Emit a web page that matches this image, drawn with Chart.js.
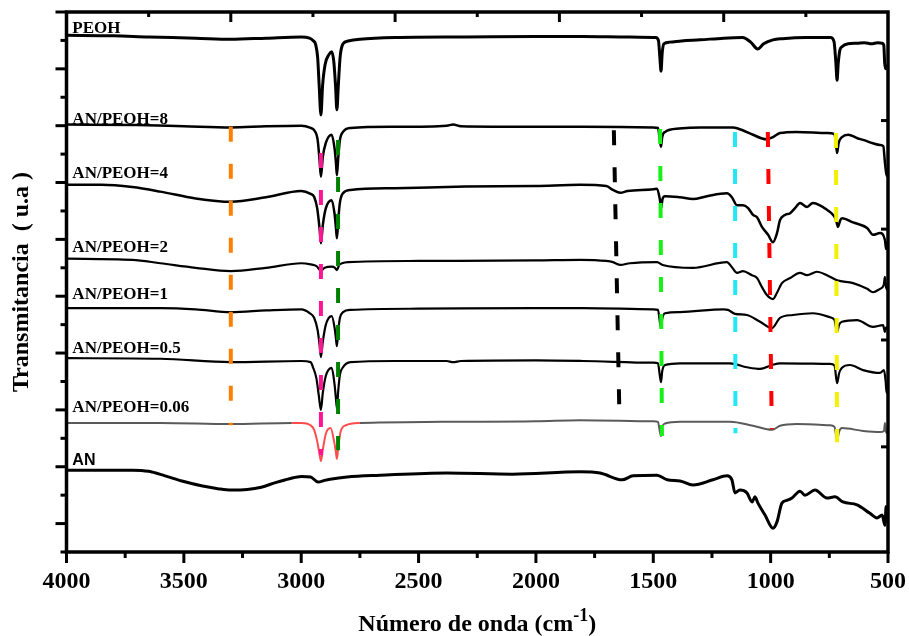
<!DOCTYPE html>
<html>
<head>
<meta charset="utf-8">
<title>FTIR AN/PEOH</title>
<script src="https://cdn.jsdelivr.net/npm/chart.js@4.4.0/dist/chart.umd.min.js"></script>
<style>
  html, body { margin: 0; padding: 0; background: #fff; }
</style>
</head>
<body>
<canvas id="ftirChart" width="909" height="636"></canvas>
<script>
// spectra: [wavenumber (cm-1), transmittance (u.a., stacked)]
const peoh = [
  [4000, 8.59], [3800, 8.58], [3650, 8.56], [3450, 8.54], [3300, 8.52], [3150, 8.54], [3000, 8.56],
  [2965, 8.54], [2950, 8.50], [2938, 8.42], [2930, 8.20], [2924, 7.75], [2916, 7.19], [2909, 7.70],
  [2898, 8.08], [2882, 8.25], [2870, 8.30], [2861, 8.12], [2854, 7.72], [2848, 7.28], [2842, 7.70],
  [2834, 8.22], [2822, 8.44], [2800, 8.49], [2750, 8.52], [2600, 8.55], [2300, 8.56], [2000, 8.57],
  [1800, 8.57], [1600, 8.56], [1490, 8.55], [1478, 8.50], [1472, 8.20], [1467, 7.96], [1462, 8.28],
  [1455, 8.44], [1430, 8.47], [1380, 8.49], [1300, 8.51], [1200, 8.54], [1120, 8.55], [1085, 8.47],
  [1055, 8.35], [1030, 8.44], [990, 8.51], [950, 8.53], [850, 8.55], [745, 8.55], [730, 8.48],
  [722, 8.10], [717, 7.80], [712, 8.10], [705, 8.33], [696, 8.39], [670, 8.44], [632, 8.45],
  [600, 8.46], [570, 8.44], [545, 8.46], [525, 8.45], [518, 8.42], [514, 8.10], [510, 8.00],
  [505, 8.05], [500, 8.03]
];
const an8 = [
  [4000, 7.02], [3700, 7.01], [3500, 6.99], [3300, 6.97], [3150, 6.99], [3000, 7.00], [2960, 6.96],
  [2945, 6.92], [2930, 6.75], [2922, 6.40], [2916, 6.10], [2908, 6.45], [2895, 6.70], [2870, 6.84],
  [2858, 6.60], [2852, 6.35], [2848, 6.13], [2842, 6.45], [2835, 6.75], [2822, 6.89], [2790, 6.96],
  [2600, 6.98], [2380, 7.00], [2353, 7.02], [2320, 6.99], [2000, 6.98], [1800, 6.98], [1500, 6.97],
  [1480, 6.96], [1472, 6.75], [1467, 6.63], [1462, 6.80], [1450, 6.89], [1390, 6.95], [1300, 6.97],
  [1160, 6.97], [1140, 6.95], [1075, 6.84], [1040, 6.78], [1016, 6.76], [990, 6.80], [960, 6.87],
  [890, 6.89], [760, 6.87], [728, 6.85], [722, 6.70], [717, 6.52], [710, 6.70], [696, 6.80],
  [670, 6.84], [630, 6.78], [606, 6.75], [564, 6.69], [534, 6.66], [520, 6.64], [513, 6.35],
  [507, 6.15], [500, 6.10]
];
const an4 = [
  [4000, 5.96], [3850, 5.96], [3720, 5.92], [3600, 5.84], [3450, 5.72], [3300, 5.66], [3150, 5.74],
  [3000, 5.85], [2960, 5.80], [2945, 5.75], [2932, 5.55], [2922, 5.20], [2916, 4.93], [2908, 5.25],
  [2895, 5.55], [2870, 5.69], [2858, 5.45], [2852, 5.20], [2848, 5.02], [2842, 5.35], [2835, 5.65],
  [2822, 5.81], [2790, 5.87], [2600, 5.90], [2300, 5.93], [2000, 5.94], [1812, 5.96], [1700, 5.94],
  [1672, 5.87], [1640, 5.82], [1610, 5.85], [1500, 5.88], [1484, 5.89], [1472, 5.70], [1467, 5.55],
  [1460, 5.72], [1450, 5.76], [1386, 5.74], [1331, 5.71], [1271, 5.76], [1186, 5.81], [1165, 5.74],
  [1143, 5.60], [1118, 5.60], [1096, 5.55], [1075, 5.43], [1058, 5.39], [1037, 5.22], [1011, 5.08],
  [990, 4.95], [973, 5.11], [960, 5.34], [939, 5.43], [917, 5.46], [896, 5.55], [875, 5.64],
  [845, 5.57], [820, 5.64], [790, 5.60], [760, 5.52], [734, 5.43], [722, 5.35], [713, 5.22],
  [704, 5.33], [696, 5.37], [649, 5.30], [589, 5.20], [564, 5.08], [534, 5.11], [513, 4.99],
  [508, 4.83], [504, 4.95], [500, 4.88]
];
const an2 = [
  [4000, 4.66], [3720, 4.64], [3600, 4.58], [3450, 4.50], [3300, 4.44], [3150, 4.50], [3000, 4.58],
  [2960, 4.56], [2935, 4.53], [2916, 4.45], [2900, 4.50], [2870, 4.52], [2856, 4.50], [2848, 4.46],
  [2838, 4.55], [2826, 4.58], [2800, 4.60], [2500, 4.62], [2000, 4.63], [1812, 4.64], [1700, 4.62],
  [1672, 4.60], [1640, 4.55], [1600, 4.58], [1484, 4.60], [1460, 4.55], [1331, 4.50], [1186, 4.60],
  [1165, 4.51], [1143, 4.41], [1118, 4.44], [1080, 4.37], [1058, 4.32], [1037, 4.16], [1016, 4.02],
  [990, 3.95], [973, 4.06], [952, 4.23], [917, 4.32], [875, 4.41], [845, 4.37], [803, 4.43],
  [760, 4.37], [717, 4.28], [649, 4.23], [589, 4.13], [564, 4.07], [534, 4.13], [518, 4.20],
  [513, 4.34], [508, 4.15], [500, 4.11]
];
const an1 = [
  [4000, 3.79], [3600, 3.79], [3450, 3.77], [3300, 3.72], [3150, 3.75], [3000, 3.77], [2963, 3.70],
  [2945, 3.62], [2930, 3.40], [2922, 3.15], [2916, 2.93], [2908, 3.20], [2895, 3.50], [2870, 3.65],
  [2858, 3.45], [2852, 3.25], [2848, 3.12], [2842, 3.40], [2835, 3.62], [2822, 3.72], [2790, 3.76],
  [2500, 3.78], [2000, 3.79], [1800, 3.79], [1500, 3.77], [1480, 3.76], [1472, 3.55], [1467, 3.44],
  [1462, 3.60], [1450, 3.70], [1386, 3.72], [1200, 3.77], [1182, 3.76], [1152, 3.69], [1101, 3.67],
  [1045, 3.55], [994, 3.44], [960, 3.62], [905, 3.67], [820, 3.70], [747, 3.63], [728, 3.58],
  [717, 3.37], [708, 3.50], [696, 3.55], [632, 3.58], [564, 3.46], [521, 3.49], [513, 3.37],
  [508, 3.45], [500, 3.42]
];
const an05 = [
  [4000, 2.91], [3600, 2.90], [3300, 2.84], [3000, 2.86], [2960, 2.84], [2950, 2.75], [2935, 2.55],
  [2925, 2.25], [2916, 2.00], [2908, 2.30], [2895, 2.60], [2870, 2.74], [2858, 2.45], [2852, 2.20],
  [2848, 2.03], [2842, 2.35], [2835, 2.62], [2822, 2.75], [2790, 2.84], [2600, 2.86], [2380, 2.86],
  [2353, 2.84], [2320, 2.86], [2000, 2.87], [1800, 2.86], [1500, 2.83], [1480, 2.82], [1472, 2.60],
  [1467, 2.49], [1462, 2.68], [1450, 2.79], [1386, 2.82], [1173, 2.82], [1101, 2.75], [1045, 2.72],
  [994, 2.79], [960, 2.82], [747, 2.81], [728, 2.78], [717, 2.47], [708, 2.65], [696, 2.74],
  [662, 2.79], [606, 2.70], [534, 2.65], [517, 2.70], [510, 2.50], [506, 2.30], [500, 2.35]
];
const an006 = [
  [4000, 1.77], [3600, 1.77], [3300, 1.75], [3040, 1.77], [3000, 1.77], [2960, 1.73], [2945, 1.65],
  [2932, 1.45], [2922, 1.22], [2916, 1.10], [2908, 1.30], [2895, 1.58], [2875, 1.68], [2860, 1.45],
  [2852, 1.25], [2848, 1.14], [2842, 1.35], [2832, 1.62], [2810, 1.73], [2750, 1.77], [2400, 1.79],
  [2000, 1.80], [1812, 1.82], [1500, 1.80], [1480, 1.79], [1472, 1.62], [1467, 1.54], [1462, 1.70],
  [1450, 1.76], [1386, 1.79], [1173, 1.79], [1075, 1.72], [994, 1.65], [960, 1.72], [888, 1.75],
  [747, 1.73], [728, 1.70], [717, 1.47], [708, 1.62], [696, 1.68], [606, 1.63], [534, 1.61],
  [517, 1.63], [513, 1.77], [508, 1.60], [500, 1.62]
];
const anPure = [
  [4000, 0.94], [3720, 0.94], [3650, 0.92], [3580, 0.84], [3500, 0.74], [3420, 0.66], [3350, 0.61],
  [3300, 0.59], [3230, 0.60], [3170, 0.64], [3110, 0.72], [3050, 0.79], [3000, 0.83], [2960, 0.82],
  [2928, 0.73], [2900, 0.76], [2877, 0.78], [2805, 0.82],
  [2664, 0.85], [2380, 0.89], [2100, 0.87], [1812, 0.91], [1727, 0.89], [1633, 0.77], [1586, 0.84],
  [1484, 0.85], [1441, 0.77], [1386, 0.75], [1331, 0.68], [1246, 0.77], [1186, 0.84], [1165, 0.77],
  [1152, 0.54], [1131, 0.59], [1101, 0.54], [1079, 0.38], [1067, 0.47], [1054, 0.36], [1024, 0.15],
  [990, -0.08], [973, 0.03], [952, 0.36], [930, 0.41], [909, 0.45], [875, 0.57], [854, 0.50],
  [811, 0.59], [760, 0.45], [726, 0.47], [692, 0.38], [632, 0.33], [577, 0.18], [547, 0.10],
  [525, 0.15], [513, -0.03], [508, 0.30], [504, 0.05], [500, 0.10]
];

const seriesNames = ['PEOH', 'AN/PEOH=8', 'AN/PEOH=4', 'AN/PEOH=2', 'AN/PEOH=1', 'AN/PEOH=0.5', 'AN/PEOH=0.06', 'AN'];
const seriesData = [peoh, an8, an4, an2, an1, an05, an006, anPure];
const seriesColors = ['#000', '#000', '#000', '#000', '#000', '#000', '#5a5a5a', '#000'];
const seriesWidths = [3, 2.5, 2.5, 2.2, 2.2, 2.2, 2, 3];

// band markers: top and bottom ends of each dashed guide
const markerTop = [[3300, 6.98], [2916, 6.52], [2843, 6.75], [1668, 6.92], [1471, 6.94], [1152, 6.89], [1012, 6.89], [722, 6.87]];
const markerBottom = [[3300, 1.73], [2916, 1.20], [2843, 1.29], [1645, 2.05], [1463, 1.54], [1150, 1.59], [995, 1.66], [717, 1.43]];
const markerColors = ['#ff8000', '#ff1493', '#008000', '#000000', '#18f018', '#22e8f5', '#ff0000', '#f2f200'];

// axis decorations
const xMajor = [4000, 3500, 3000, 2500, 2000, 1500, 1000, 500];
const topTicks = [3650, 3300, 2950, 2600, 2250, 1900, 1550, 1200, 850];
const rightTicks = [7.09, 5.18, 3.23, 1.35];
const labelPos = [[3975, 8.63], [3975, 7.03], [3975, 6.08], [3975, 4.78], [3975, 3.95], [3975, 3.00], [3975, 1.96], [3975, 1.03]];

const serif = "'Liberation Serif', 'Times New Roman', serif";

const datasets = [];
markerTop.forEach((p, i) => {
  datasets.push({
    data: [{ x: p[0], y: p[1] }, { x: markerBottom[i][0], y: markerBottom[i][1] }],
    borderColor: markerColors[i],
    borderWidth: 4,
    borderDash: [15, 22],
    borderCapStyle: 'butt',
    pointRadius: 0,
    order: 0
  });
});
seriesData.forEach((s, i) => {
  const ds = {
    label: seriesNames[i],
    data: s.map(p => ({ x: p[0], y: p[1] })),
    borderColor: seriesColors[i],
    borderWidth: seriesWidths[i],
    pointRadius: 0,
    cubicInterpolationMode: 'monotone',
    borderJoinStyle: 'round',
    order: 1
  };
  if (seriesNames[i] === 'AN/PEOH=0.06') {
    ds.segment = {
      borderColor: c => (c.p0.parsed.x <= 3040 && c.p1.parsed.x >= 2750) ? '#ff4d4d' : undefined
    };
  }
  datasets.push(ds);
});

const axesFrame = {
  id: 'axesFrame',
  beforeDatasetsDraw(chart) {
    const { ctx, scales: { x, y } } = chart;
    ctx.save();
    ctx.fillStyle = '#000';
    ctx.textBaseline = 'alphabetic';
    ctx.textAlign = 'left';
    seriesNames.forEach((name, i) => {
      ctx.font = name === 'AN' ? "bold 16px 'Liberation Sans', Arial, sans-serif" : 'bold 17px ' + serif;
      ctx.fillText(name, x.getPixelForValue(labelPos[i][0]), y.getPixelForValue(labelPos[i][1]));
    });
    ctx.restore();
  },
  afterDatasetsDraw(chart) {
    const { ctx, chartArea: a, scales: { x, y } } = chart;
    ctx.save();
    ctx.strokeStyle = '#000';
    ctx.lineCap = 'butt';
    ctx.lineWidth = 3;
    const line = (x1, y1, x2, y2) => { ctx.beginPath(); ctx.moveTo(x1, y1); ctx.lineTo(x2, y2); ctx.stroke(); };
    // bottom ticks, outward
    for (let w = 500; w <= 4000; w += 250) {
      const px = x.getPixelForValue(w);
      line(px, a.bottom, px, a.bottom + (w % 500 === 0 ? 11 : 6));
    }
    // left ticks, outward
    for (let v = -0.5; v <= 9; v += 0.5) {
      const py = y.getPixelForValue(v);
      line(a.left, py, a.left - (Number.isInteger(v) ? 11 : 6), py);
    }
    // top ticks, inward
    topTicks.forEach((w, i) => {
      const px = x.getPixelForValue(w);
      line(px, a.top, px, a.top + (i % 2 === 1 ? 10 : 5));
    });
    // right ticks, inward
    rightTicks.forEach(v => {
      const py = y.getPixelForValue(v);
      line(a.right, py, a.right - 7, py);
    });
    ctx.lineWidth = 3.5;
    ctx.strokeRect(a.left, a.top, a.right - a.left, a.bottom - a.top);

    // x axis title with superscript
    const main = 'Número de onda (cm';
    const sup = '-1';
    const close = ')';
    ctx.fillStyle = '#000';
    ctx.textBaseline = 'alphabetic';
    ctx.textAlign = 'left';
    ctx.font = 'bold 24px ' + serif;
    const wMain = ctx.measureText(main).width;
    const wClose = ctx.measureText(close).width;
    ctx.font = 'bold 18px ' + serif;
    const wSup = ctx.measureText(sup).width;
    let tx = (a.left + a.right) / 2 - (wMain + wSup + wClose) / 2;
    const ty = 631;
    ctx.font = 'bold 24px ' + serif;
    ctx.fillText(main, tx, ty);
    tx += wMain;
    ctx.font = 'bold 18px ' + serif;
    ctx.fillText(sup, tx, ty - 10);
    tx += wSup;
    ctx.font = 'bold 24px ' + serif;
    ctx.fillText(close, tx, ty);
    ctx.restore();
  }
};

new Chart(document.getElementById('ftirChart'), {
  type: 'line',
  data: { datasets: datasets },
  options: {
    responsive: false,
    animation: false,
    devicePixelRatio: 1,
    layout: { padding: { left: 0, right: 21, top: 12, bottom: 0 } },
    plugins: { legend: { display: false }, tooltip: { enabled: false } },
    scales: {
      x: {
        type: 'linear',
        min: 500,
        max: 4000,
        reverse: true,
        border: { display: false },
        grid: { display: false, drawTicks: false },
        afterBuildTicks: s => { s.ticks = xMajor.map(v => ({ value: v })); },
        afterFit: s => { s.height = 84; s.paddingLeft = 0; s.paddingRight = 0; },
        ticks: {
          padding: 15,
          color: '#000',
          maxRotation: 0,
          autoSkip: false,
          font: { family: serif, size: 24, weight: 'bold' },
          callback: v => String(v)
        }
      },
      y: {
        type: 'linear',
        min: -0.5,
        max: 9,
        border: { display: false },
        grid: { display: false, drawTicks: false },
        afterFit: s => { s.width = 66.5; s.paddingTop = 0; s.paddingBottom = 0; },
        ticks: { display: false },
        title: {
          display: true,
          text: 'Transmitancia  ( u.a )',
          color: '#000',
          font: { family: serif, size: 24, weight: 'bold' },
          padding: { top: 7, bottom: 4 }
        }
      }
    }
  },
  plugins: [axesFrame]
});
</script>
</body>
</html>
